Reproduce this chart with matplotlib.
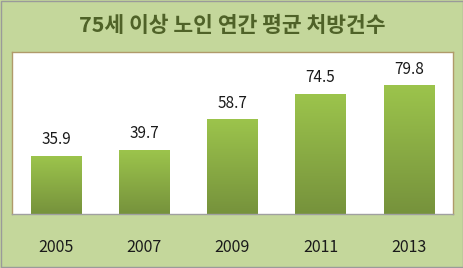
import numpy as np
import matplotlib
matplotlib.use('Agg')
import matplotlib.pyplot as plt
from matplotlib.colors import LinearSegmentedColormap
from matplotlib.patches import Rectangle

plt.rcParams['font.family'] = ['Noto Sans CJK KR', 'DejaVu Sans']

# data
years = ['2005', '2007', '2009', '2011', '2013']
values = [35.9, 39.7, 58.7, 74.5, 79.8]
title = '75세 이상 노인 연간 평균 처방건수'

bg = '#c4d79b'
fig = plt.figure(figsize=(4.64, 2.68), dpi=100, facecolor=bg)
# outer frame
fig.patches.append(Rectangle((0.002, 0.004), 0.996, 0.992, transform=fig.transFigure,
                             fill=False, edgecolor='#9a9a9a', linewidth=1.0))

ax = fig.add_axes([0.026, 0.2015, 0.950, 0.6045])
ax.set_facecolor('white')

x = np.arange(len(years))
width = 0.57
bars = ax.bar(x, values, width=width, color='none', edgecolor='none', zorder=2)

# vertical gradient fill for each bar
grad_cmap = LinearSegmentedColormap.from_list('g', ['#76923c', '#9cc44c'])
grad = np.linspace(0, 1, 256).reshape(-1, 1)
for b in bars:
    x0, w, h = b.get_x(), b.get_width(), b.get_height()
    ax.imshow(grad, cmap=grad_cmap, origin='lower', aspect='auto',
              extent=(x0, x0 + w, 0, h), zorder=2)

for xi, v in zip(x, values):
    ax.annotate(f'{v}', (xi, v), xytext=(0, 6), textcoords='offset points',
                ha='center', va='bottom', fontsize=11, color='#1a1a1a')

ax.set_xlim(-0.5, len(years) - 0.5)
ax.set_ylim(0, 101)
ax.set_xticks(x)
ax.set_xticklabels(years, fontsize=11.5, color='#1a1a1a')
ax.tick_params(axis='x', length=0, pad=18)
ax.set_yticks([])

for side in ['top', 'left', 'right']:
    ax.spines[side].set_color('#b09a6a')
    ax.spines[side].set_linewidth(1.0)
ax.spines['bottom'].set_color('#a0a0a0')
ax.spines['bottom'].set_linewidth(1.0)

fig.text(0.5, 0.905, title, ha='center', va='center', fontsize=15.5,
         fontweight='bold', color='#4f6228')

fig.savefig('out.png', dpi=100, facecolor=bg)
